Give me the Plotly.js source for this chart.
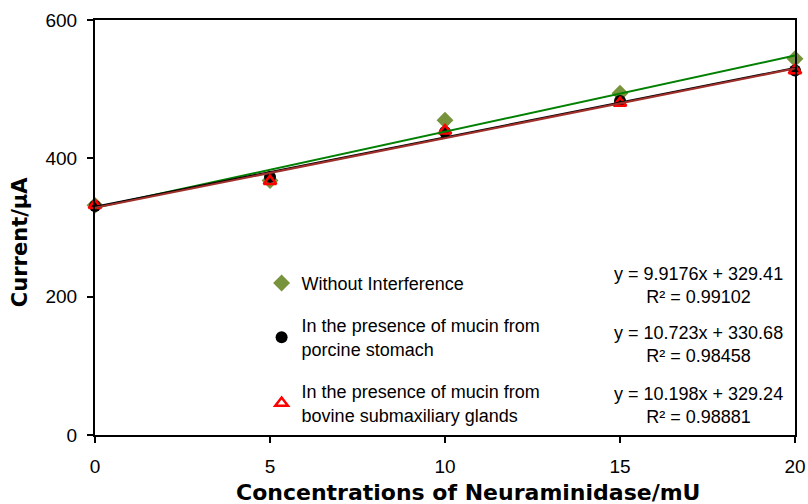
<!DOCTYPE html>
<html>
<head>
<meta charset="utf-8">
<script src="https://cdn.plot.ly/plotly-3.0.1.min.js"></script>
<style>html,body{margin:0;padding:0;background:#fff;}#chart{width:808px;height:504px;}</style>
</head>
<body>
<div id="chart"></div>
<script>
const concentrations = [0, 5, 10, 15, 20];
const withoutInterference = [332, 368, 455, 494, 544];
const porcineStomach = [331, 373, 438, 483, 527];
const bovineGlands = [332, 367, 440, 480, 527];
const seriesNames = [
  'Without Interference',
  'In the presence of mucin from<br>porcine stomach',
  'In the presence of mucin from<br>bovine submaxiliary glands'
];
const equationTexts = [
  'y = 9.9176x + 329.41<br>R² = 0.99102',
  'y = 10.723x + 330.68<br>R² = 0.98458',
  'y = 10.198x + 329.24<br>R² = 0.98881'
];
const equationY = [216, 131, 43];
const xTitle = '<b>Concentrations of Neuraminidase/mU</b>';
const yTitle = '<b>Current/μA</b>';

function fit(xs, ys) {
  const n = xs.length;
  const mx = xs.reduce((a, b) => a + b, 0) / n;
  const my = ys.reduce((a, b) => a + b, 0) / n;
  let sxy = 0, sxx = 0;
  for (let i = 0; i < n; i++) { sxy += (xs[i] - mx) * (ys[i] - my); sxx += (xs[i] - mx) ** 2; }
  const m = sxy / sxx;
  return { m, b: my - m * mx };
}
function trend(ys) {
  const f = fit(concentrations, ys);
  const x0 = concentrations[0], x1 = concentrations[concentrations.length - 1];
  return { x: [x0, x1], y: [f.m * x0 + f.b, f.m * x1 + f.b] };
}

const font = 'Arial, "Liberation Sans", sans-serif';
const titleFont = '"DejaVu Sans", Verdana, sans-serif';
const data = [
  { x: concentrations, y: withoutInterference, mode: 'markers', name: seriesNames[0], legendgroup: 'a',
    marker: { symbol: 'diamond', size: 13, color: '#77933c' }, cliponaxis: false },
  { x: concentrations, y: porcineStomach, mode: 'markers', name: seriesNames[1], legendgroup: 'b',
    marker: { symbol: 'circle', size: 12, color: '#000000' }, cliponaxis: false },
  { x: concentrations, y: bovineGlands, mode: 'markers', name: seriesNames[2], legendgroup: 'c',
    marker: { symbol: 'triangle-up-open', size: 11, color: '#ff0000', line: { width: 2.5, color: '#ff0000' } }, cliponaxis: false },
];
const lw = [
  [withoutInterference, '#008000'],
  [porcineStomach, '#000000'],
  [bovineGlands, '#a0302c']
];
lw.forEach(([ys, c]) => {
  const t = trend(ys);
  data.push({ x: t.x, y: t.y, mode: 'lines', showlegend: false, hoverinfo: 'skip',
    line: { color: c, width: 2 }, cliponaxis: false });
});

const annotations = equationTexts.map((t, i) => ({
  text: t, x: 17.25, y: equationY[i], xref: 'x', yref: 'y', showarrow: false,
  align: 'center', font: { family: font, size: 18, color: '#000' }
}));
annotations.push({
  text: xTitle, xref: 'paper', yref: 'paper', x: 0.533, y: -0.138, xanchor: 'center', yanchor: 'middle',
  showarrow: false, font: { family: titleFont, size: 22, color: '#000' }
});
annotations.push({
  text: yTitle, xref: 'paper', yref: 'paper', x: -0.107, y: 0.465, xanchor: 'center', yanchor: 'middle',
  textangle: -90, showarrow: false, font: { family: titleFont, size: 21, color: '#000' }
});

const layout = {
  width: 808, height: 504,
  margin: { l: 95, r: 13, t: 20, b: 69 },
  paper_bgcolor: '#fff', plot_bgcolor: '#fff',
  font: { family: font, size: 18, color: '#000' },
  showlegend: true,
  legend: { x: 0.238, y: 0.41, xanchor: 'left', yanchor: 'top', bgcolor: 'rgba(0,0,0,0)',
    font: { family: font, size: 18, color: '#000' }, traceorder: 'grouped', tracegroupgap: 16, valign: 'middle' },
  xaxis: {
    range: [0, 20], dtick: 5, tick0: 0, showgrid: false, zeroline: false,
    showline: true, mirror: true, linecolor: '#000', linewidth: 2,
    ticks: 'outside', ticklen: 6, tickwidth: 2, tickcolor: '#000', ticklabelstandoff: 7,
    tickfont: { family: font, size: 19 }
  },
  yaxis: {
    range: [0, 600], dtick: 200, tick0: 0, showgrid: false, zeroline: false,
    showline: true, mirror: true, linecolor: '#000', linewidth: 2,
    ticks: 'outside', ticklen: 6, tickwidth: 2, tickcolor: '#000', ticklabelstandoff: 6,
    tickfont: { family: font, size: 19 }
  },
  annotations
};
Plotly.newPlot('chart', data, layout, { displayModeBar: false, responsive: false });
</script>
</body>
</html>
